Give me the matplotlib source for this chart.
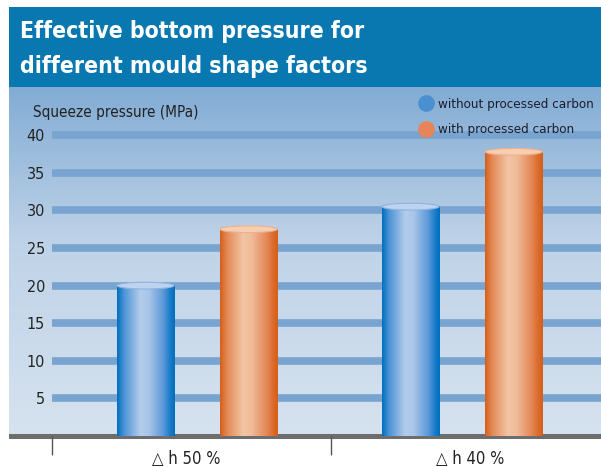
import matplotlib
matplotlib.use("Agg")
import matplotlib.pyplot as plt
from matplotlib.patches import Rectangle, Ellipse
from matplotlib.lines import Line2D
from matplotlib.colors import LinearSegmentedColormap
from matplotlib.font_manager import FontProperties
import numpy as np

def fp(size, weight='normal'):
    return FontProperties(family=['DejaVu Sans'], stretch='condensed', size=size, weight=weight)

# data
groups = ['\u25b3 h 50 %', '\u25b3 h 40 %']
series = ['without processed carbon', 'with processed carbon']
without_carbon = [20.0, 30.5]
with_carbon = [27.5, 37.8]
yticks = [5, 10, 15, 20, 25, 30, 35, 40]

# layout
centers = np.array([0.52, 1.47])
off = 0.185
w = 0.205

fig = plt.figure(figsize=(6.01, 4.67), dpi=100)
bg = fig.add_axes([0, 0, 1, 1])
bg.axis('off')

bg.add_patch(Rectangle((9, 7), 592, 80, color='#0a78b0', lw=0))
panel = LinearSegmentedColormap.from_list('p', [(0, '#82acd4'), (0.45, '#bfd3e8'), (1, '#d6e2ef')])
bg.imshow(panel(np.linspace(0, 1, 256))[:, None, :], extent=[9, 601, 436, 87], aspect='auto')
bg.add_patch(Rectangle((9, 434), 592, 5, color='#6d6d6d', lw=0))
bg.set_xlim(0, 601)
bg.set_ylim(467, 0)

bg.text(20, 38, 'Effective bottom pressure for', color='white',
        fontproperties=fp(16.5, 'bold'), va='baseline')
bg.text(20, 73, 'different mould shape factors', color='white',
        fontproperties=fp(16.5, 'bold'), va='baseline')
bg.text(33, 112, 'Squeeze pressure (MPa)', color='#222222', fontproperties=fp(11),
        va='center')

ax = fig.add_axes([52 / 601, (467 - 436) / 467, 549 / 601, 349 / 467])
ax.patch.set_alpha(0)
for s in ax.spines.values():
    s.set_visible(False)

xmax = 549 / 279
ymax = 349 / 7.52
ax.hlines(yticks, 0, xmax, colors='#78a4cf', lw=5.5, zorder=1)

blue = LinearSegmentedColormap.from_list('b', [(0, '#006fbe'), (0.12, '#4d93d6'), (0.4, '#b3ccec'),
                                              (0.55, '#a9c5e9'), (0.8, '#5c99d8'), (0.92, '#1a7cc8'),
                                              (1, '#006fbe')])
orange = LinearSegmentedColormap.from_list('o', [(0, '#d65e1a'), (0.12, '#e38a56'), (0.4, '#f2c5a5'),
                                                (0.55, '#efbb98'), (0.8, '#e4895a'), (0.92, '#db6c2c'),
                                                (1, '#d65e1a')])
grad = np.linspace(0, 1, 128)
for vals, cmap, dx, top, edge in [(without_carbon, blue, -off, '#bed3ef', '#8fb4e0'),
                                  (with_carbon, orange, off, '#f6cfb2', '#eeb08a')]:
    for c, v in zip(centers, vals):
        x = c + dx
        ax.imshow(cmap(grad)[None, :, :], extent=[x - w / 2, x + w / 2, 0, v],
                  aspect='auto', zorder=3)
        ax.add_patch(Ellipse((x, v), w, 0.9, facecolor=top, edgecolor=edge, lw=0.8, zorder=4))

ax.set_xlim(0, xmax)
ax.set_ylim(0, ymax)
ax.set_yticks(yticks)
ax.set_yticklabels([str(t) for t in yticks], fontproperties=fp(11.5), color='#222222')
ax.tick_params(axis='y', length=0, pad=5)
ax.set_xticks([0, 1])
ax.set_xticklabels([])
ax.tick_params(axis='x', which='major', length=14, width=1, color='#555555', direction='out')
ax.set_xticks([0.48, 1.5], minor=True)
ax.set_xticklabels(groups, minor=True, fontproperties=fp(12), color='#222222')
ax.tick_params(axis='x', which='minor', length=0, pad=10)

handles = [Line2D([], [], marker='o', ls='', markersize=11, color='#4a90d0'),
           Line2D([], [], marker='o', ls='', markersize=11, color='#e8845a')]
leg = fig.legend(handles, series, loc='upper left', bbox_to_anchor=(412 / 601, 1 - 91 / 467),
                 frameon=False, handletextpad=0.35, labelspacing=0.95, borderpad=0,
                 handlelength=1.1, prop=fp(9.6))
for t in leg.get_texts():
    t.set_color('#1c1c2c')

fig.savefig('out.png', dpi=100)
